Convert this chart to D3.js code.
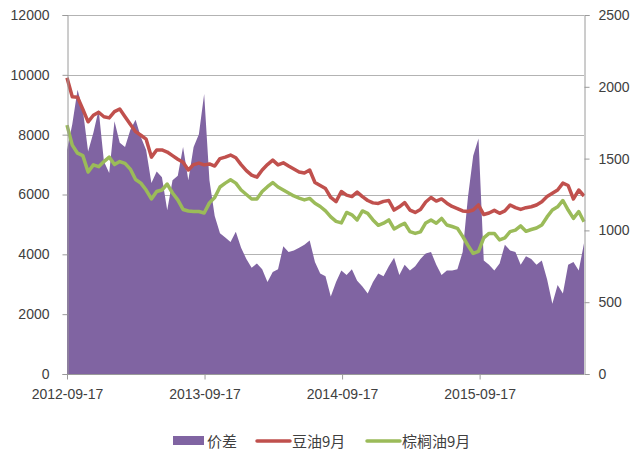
<!DOCTYPE html>
<html>
<head>
<meta charset="utf-8">
<script src="https://cdn.jsdelivr.net/npm/d3@7"></script>
<style>
  body { margin: 0; background: #fff; }
  text { font-family: "Liberation Sans", Arial, sans-serif; fill: #404040; }
  .legend text { font-family: "Noto Sans CJK SC", sans-serif; }
</style>
</head>
<body>
<svg id="chart" width="633" height="457"></svg>
<script>
// 两周一个采样点，从 2012-09-17 开始
const START_DATE = '2012-09-17';
const STEP_DAYS = 14;

// 价差（右轴）
const spread = [
  1560, 1740, 1980, 1840, 1550, 1680, 1840, 1480, 1400, 1760,
  1610, 1580, 1700, 1770, 1650, 1560, 1330, 1410, 1370, 1140,
  1350, 1380, 1580, 1350, 1580, 1670, 1950, 1350, 1100, 980,
  950, 920, 990, 880, 800, 740, 770, 730, 640, 710,
  730, 890, 850, 860, 880, 900, 930, 780, 700, 680,
  540, 640, 720, 690, 730, 650, 610, 560, 640, 700,
  680, 750, 810, 690, 760, 720, 750, 800, 840, 850,
  760, 690, 720, 720, 730, 850, 1230, 1520, 1640, 790,
  760, 720, 770, 900, 860, 850, 760, 820, 800, 760,
  790, 660, 490, 620, 560, 760, 780, 720, 910
];

// 豆油9月（左轴）
const soyOil = [
  9900, 9270, 9250, 8850, 8430, 8650, 8750, 8600, 8560, 8770,
  8860, 8600, 8350, 8100, 7980, 7850, 7250, 7490, 7490, 7420,
  7300, 7180, 7080, 6820, 7000, 7050, 6990, 7020, 6950, 7200,
  7250, 7320, 7230, 7000, 6800, 6650, 6580, 6820, 7000, 7150,
  6990, 7060, 6950, 6850, 6750, 6720, 6820, 6400, 6300, 6200,
  5900, 5760, 6100, 5980, 5930, 6080, 5930, 5800, 5720, 5700,
  5770, 5800, 5480, 5590, 5730, 5480, 5400, 5500, 5750, 5900,
  5780, 5850, 5710, 5600, 5530, 5450, 5430, 5480, 5650, 5330,
  5380, 5470, 5370, 5450, 5650, 5560, 5500, 5560, 5590, 5650,
  5760, 5930, 6040, 6150, 6380, 6300, 5850, 6150, 5950
];

// 棕榈油9月（左轴）
const palmOil = [
  8320, 7650, 7380, 7300, 6750, 6990, 6930, 7100, 7250, 7000,
  7100, 7040, 6850, 6500, 6380, 6150, 5850, 6100, 6150, 6350,
  6050, 5820, 5500, 5450, 5430, 5430, 5380, 5720, 5900, 6250,
  6380, 6490, 6380, 6150, 6000, 5850, 5850, 6100, 6260, 6400,
  6250, 6150, 6050, 5950, 5880, 5820, 5870, 5710, 5600, 5450,
  5250, 5100, 5050, 5400, 5320, 5150, 5450, 5370, 5150, 4970,
  5040, 5150, 4850, 4950, 5040, 4760, 4700, 4750, 5050, 5150,
  5040, 5200, 4980, 4930, 4870, 4600, 4300, 4030, 4100, 4550,
  4700, 4700, 4480, 4550, 4760, 4810, 4950, 4770, 4830, 4880,
  4980, 5250, 5480, 5590, 5800, 5480, 5200, 5430, 5090
];

const leftTicks = [0, 2000, 4000, 6000, 8000, 10000, 12000];
const rightTicks = [0, 500, 1000, 1500, 2000, 2500];
const xTickLabels = ['2012-09-17', '2013-09-17', '2014-09-17', '2015-09-17'];

const SERIES_NAMES = ['价差', '豆油9月', '棕榈油9月'];
const COLORS = { spread: '#8064A2', soy: '#C0504D', palm: '#9BBB59' };

const svg = d3.select('#chart');
const plot = { left: 67, right: 584, top: 15, bottom: 374 };

const parse = d3.timeParse('%Y-%m-%d');
const start = parse(START_DATE);
const dates = spread.map((_, i) => d3.timeDay.offset(start, i * STEP_DAYS));

const x = d3.scaleTime()
  .domain([dates[0], dates[dates.length - 1]])
  .range([plot.left, plot.right]);
const yL = d3.scaleLinear().domain([0, 12000]).range([plot.bottom, plot.top]);
const yR = d3.scaleLinear().domain([0, 2500]).range([plot.bottom, plot.top]);

// 网格线
svg.append('g')
  .selectAll('line')
  .data(leftTicks.slice(1))
  .enter()
  .append('line')
  .attr('x1', plot.left).attr('x2', plot.right)
  .attr('y1', d => Math.round(yL(d)) + 0.5)
  .attr('y2', d => Math.round(yL(d)) + 0.5)
  .attr('stroke', '#b3b3b3')
  .attr('stroke-width', 1);

// 价差面积
const area = d3.area()
  .x((d, i) => x(dates[i]))
  .y0(yR(0))
  .y1(d => yR(d));

svg.append('path')
  .datum(spread)
  .attr('d', area)
  .attr('fill', COLORS.spread);

// 两条价格线
const line = d3.line()
  .x((d, i) => x(dates[i]))
  .y(d => yL(d));

[[soyOil, COLORS.soy], [palmOil, COLORS.palm]].forEach(([data, c]) => {
  svg.append('path')
    .datum(data)
    .attr('d', line)
    .attr('fill', 'none')
    .attr('stroke', c)
    .attr('stroke-width', 3.5)
    .attr('stroke-linejoin', 'round');
});

// 左轴
const leftAxis = svg.append('g')
  .attr('transform', `translate(${plot.left + 0.5},0)`)
  .call(d3.axisLeft(yL).tickValues(leftTicks).tickSize(5).tickPadding(13).tickFormat(d3.format('d')));

// 右轴
const rightAxis = svg.append('g')
  .attr('transform', `translate(${plot.right + 0.5},0)`)
  .call(d3.axisRight(yR).tickValues(rightTicks).tickSize(5).tickPadding(9).tickFormat(d3.format('d')));

// 横轴
const bottomAxis = svg.append('g')
  .attr('transform', `translate(0,${plot.bottom + 0.5})`)
  .call(d3.axisBottom(x).tickValues(xTickLabels.map(parse)).tickSize(5).tickPadding(10).tickFormat(d3.timeFormat('%Y-%m-%d')));

[leftAxis, rightAxis, bottomAxis].forEach(g => {
  g.select('.domain').attr('stroke', '#9a9a9a');
  g.selectAll('.tick line').attr('stroke', '#9a9a9a');
  g.selectAll('.tick text')
    .style('font-size', '14px')
    .style('font-family', '"Liberation Sans", Arial, sans-serif')
    .attr('fill', '#404040');
});
bottomAxis.select('.domain').attr('d', `M${plot.left},0H${plot.right}`);

// 图例
const legend = svg.append('g').attr('class', 'legend');
const legendItems = [
  { name: SERIES_NAMES[0], color: COLORS.spread, type: 'rect', x: 173, tx: 207 },
  { name: SERIES_NAMES[1], color: COLORS.soy, type: 'line', x: 257, tx: 292 },
  { name: SERIES_NAMES[2], color: COLORS.palm, type: 'line', x: 367, tx: 402 }
];
legendItems.forEach(it => {
  if (it.type === 'rect') {
    legend.append('rect')
      .attr('x', it.x).attr('y', 436)
      .attr('width', 31).attr('height', 9)
      .attr('fill', it.color);
  } else {
    legend.append('line')
      .attr('x1', it.x).attr('x2', it.x + 33)
      .attr('y1', 441).attr('y2', 441)
      .attr('stroke', it.color)
      .attr('stroke-width', 3.5)
      .attr('stroke-linecap', 'round');
  }
  legend.append('text')
    .attr('x', it.tx).attr('y', 446.5)
    .style('font-size', '15px')
    .text(it.name);
});
</script>
</body>
</html>
